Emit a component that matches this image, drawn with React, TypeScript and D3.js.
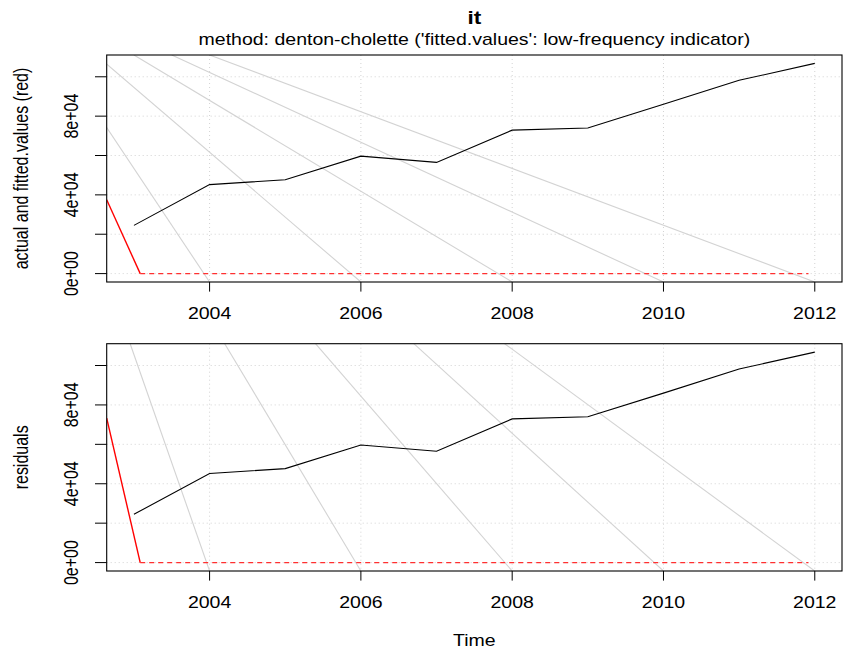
import React, { useEffect, useRef } from "react";
import * as d3 from "d3";

const width = 843;
const height = 654;

// annual series (black), same in both panels
const years = [2003, 2004, 2005, 2006, 2007, 2008, 2009, 2010, 2011, 2012];
const actual = [24500, 45200, 47700, 59700, 56500, 72900, 74000, 86000, 98200, 106800];

// red fitted values: a steep solid head, then flat dashed at zero
const headTimes = [2002.64, 2003.083];
const headTop = [37500, 0];
const headBottom = [73300, 0];
const flatTimes = [2003.083, 2011.917];
const flatValues = [0, 0];

// grey diagonal lines: year where each leaves the top of the box, year where it hits the bottom
const greyStartTop = [2002, 2002.5, 2003, 2003.5, 2004];
const greyStartBottom = [2002.95, 2004.2, 2005.4, 2006.7, 2007.9];
const greyEnd = [2004, 2006, 2008, 2010, 2012];

const xTicks = [2004, 2006, 2008, 2010, 2012];
const yTicks = [0, 20000, 40000, 60000, 80000, 100000];
const yLabels = ["0e+00", "4e+04", "8e+04"];
const yLabelTicks = [0, 40000, 80000];

const sx = 1.22; // picture is stretched horizontally
const font = "'Liberation Sans', Arial, sans-serif";

const Chart = () => {
  const ref = useRef(null);

  useEffect(() => {
    const svg = d3.select(ref.current);
    svg.selectAll("*").remove();

    const x = d3.scaleLinear().domain([2002.64, 2012.36]).range([106.7, 842]);

    const text = (g, str, tx, ty, opts = {}) => {
      const t = g
        .append("text")
        .attr("transform", `translate(${tx},${ty}) scale(${sx},1)` + (opts.rot ? " rotate(-90)" : ""))
        .attr("text-anchor", "middle")
        .attr("font-family", font)
        .attr("font-size", opts.size || 16)
        .attr("fill", "black")
        .text(str);
      if (opts.bold) t.attr("font-weight", "bold");
      return t;
    };

    const panels = [
      { top: 55, bottom: 282, ylab: "actual and fitted.values (red)", head: headTop, greyStart: greyStartTop },
      { top: 343.7, bottom: 571, ylab: "residuals", head: headBottom, greyStart: greyStartBottom },
    ];

    panels.forEach((p, i) => {
      const y = d3.scaleLinear().domain([-4270, 111070]).range([p.bottom, p.top]);
      const g = svg.append("g");
      const clipId = "clip" + i;
      g.append("clipPath")
        .attr("id", clipId)
        .append("rect")
        .attr("x", x.range()[0])
        .attr("y", p.top)
        .attr("width", x.range()[1] - x.range()[0])
        .attr("height", p.bottom - p.top);

      const inner = g.append("g").attr("clip-path", `url(#${clipId})`);

      // dotted grid
      inner
        .selectAll(".hgrid")
        .data(yTicks)
        .enter()
        .append("line")
        .attr("x1", x.range()[0])
        .attr("x2", x.range()[1])
        .attr("y1", (d) => y(d))
        .attr("y2", (d) => y(d))
        .attr("stroke", "#d3d3d3")
        .attr("stroke-dasharray", "1,3");
      inner
        .selectAll(".vgrid")
        .data(xTicks)
        .enter()
        .append("line")
        .attr("x1", (d) => x(d))
        .attr("x2", (d) => x(d))
        .attr("y1", p.top)
        .attr("y2", p.bottom)
        .attr("stroke", "#d3d3d3")
        .attr("stroke-dasharray", "1,3");

      // grey diagonals
      inner
        .selectAll(".grey")
        .data(greyEnd)
        .enter()
        .append("line")
        .attr("x1", (d, k) => x(p.greyStart[k]))
        .attr("y1", p.top)
        .attr("x2", (d) => x(d))
        .attr("y2", p.bottom)
        .attr("stroke", "#d3d3d3")
        .attr("stroke-width", 1.1);

      const line = d3
        .line()
        .x((d) => x(d[0]))
        .y((d) => y(d[1]));

      inner
        .append("path")
        .attr("d", line(years.map((t, k) => [t, actual[k]])))
        .attr("fill", "none")
        .attr("stroke", "black")
        .attr("stroke-width", 1.1);

      inner
        .append("path")
        .attr("d", line(headTimes.map((t, k) => [t, p.head[k]])))
        .attr("fill", "none")
        .attr("stroke", "red")
        .attr("stroke-width", 1.4);

      inner
        .append("path")
        .attr("d", line(flatTimes.map((t, k) => [t, flatValues[k]])))
        .attr("fill", "none")
        .attr("stroke", "#ff3030")
        .attr("stroke-width", 1.1)
        .attr("stroke-dasharray", "5,4");

      // box
      g.append("rect")
        .attr("x", x.range()[0])
        .attr("y", p.top)
        .attr("width", x.range()[1] - x.range()[0])
        .attr("height", p.bottom - p.top)
        .attr("fill", "none")
        .attr("stroke", "black")
        .attr("stroke-width", 1.1);

      // x axis ticks
      g.selectAll(".xt")
        .data(xTicks)
        .enter()
        .append("line")
        .attr("x1", (d) => x(d))
        .attr("x2", (d) => x(d))
        .attr("y1", p.bottom)
        .attr("y2", p.bottom + 9.6)
        .attr("stroke", "black");
      xTicks.forEach((d) => text(g, String(d), x(d), p.bottom + 36.5));

      // y axis ticks
      g.selectAll(".yt")
        .data(yTicks)
        .enter()
        .append("line")
        .attr("x1", x.range()[0] - 11.7)
        .attr("x2", x.range()[0])
        .attr("y1", (d) => y(d))
        .attr("y2", (d) => y(d))
        .attr("stroke", "black");
      yLabelTicks.forEach((d, k) => text(g, yLabels[k], 78.3, y(d), { rot: true }));

      text(g, p.ylab, 27.5, (p.top + p.bottom) / 2, { rot: true });
    });

    const cx = (x.range()[0] + x.range()[1]) / 2;
    text(svg, "it", cx, 24, { bold: true, size: 18.5 });
    text(svg, "method: denton-cholette ('fitted.values': low-frequency indicator)", cx, 44.5);
    text(svg, "Time", cx, 646);
  }, []);

  return <svg ref={ref} width={width} height={height} style={{ position: "absolute", left: 0, top: 0, background: "white" }}></svg>;
};

export default function App() {
  return <Chart />;
}
